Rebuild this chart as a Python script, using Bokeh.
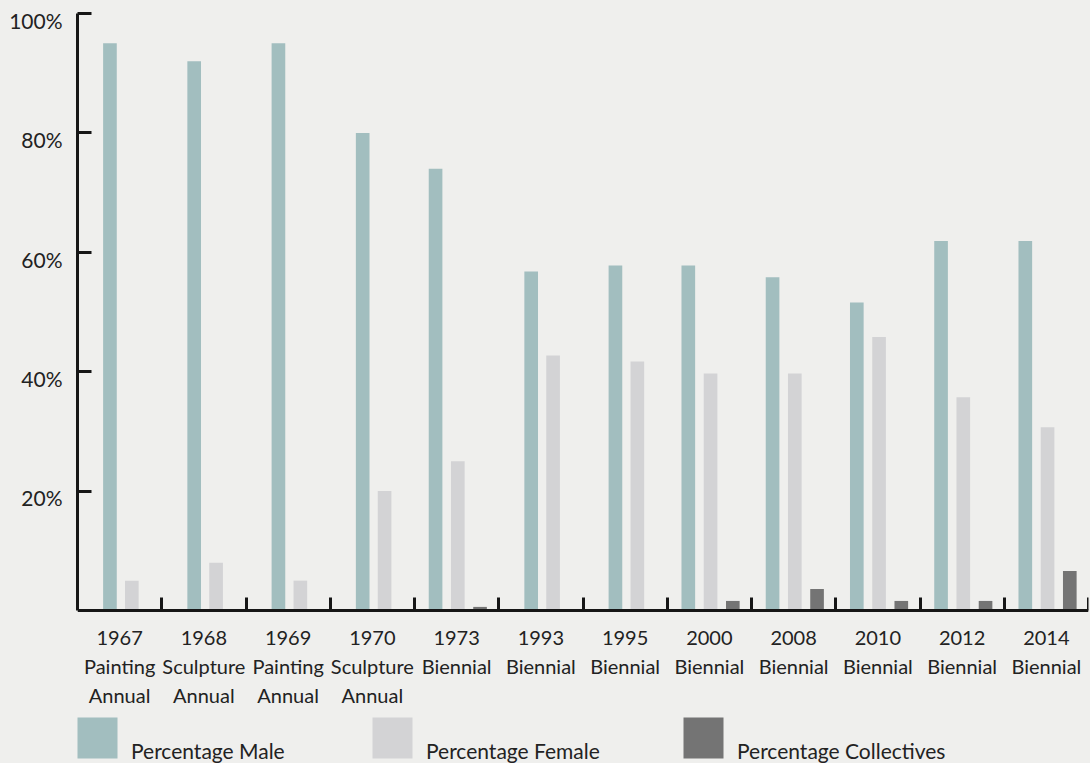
from bokeh.plotting import figure
from bokeh.models import Range1d, LinearAxis, FixedTicker, Legend, LegendItem
from bokeh.embed import file_html
from bokeh.resources import INLINE

# ---- data ----
years = ["1967", "1968", "1969", "1970", "1973", "1993", "1995", "2000",
         "2008", "2010", "2012", "2014"]
kinds = ["Painting\nAnnual", "Sculpture\nAnnual", "Painting\nAnnual", "Sculpture\nAnnual",
         "Biennial", "Biennial", "Biennial", "Biennial",
         "Biennial", "Biennial", "Biennial", "Biennial"]
male = [95, 92, 95, 80, 74, 56.8, 57.8, 57.8, 55.8, 51.6, 61.9, 61.9]
female = [5, 8, 5, 20, 25, 42.7, 41.7, 39.7, 39.7, 45.8, 35.7, 30.7]
collectives = [0, 0, 0, 0, 0.6, 0, 0, 1.6, 3.6, 1.6, 1.6, 6.6]
series_names = ["Percentage Male", "Percentage Female", "Percentage Collectives"]
y_ticks = [20, 40, 60, 80, 100]

# ---- style ----
FONT = "Lato"
BG = "#efefed"
C_MALE = "#a2bebf"
C_FEMALE = "#d3d3d5"
C_COLL = "#747474"
INK = "#161616"
TXT = "#222222"
BW = 0.162
Y_LOW = -25.63   # room under the baseline for the labels and the legend

n = len(years)
centers = [i + 0.5 for i in range(n)]
mx, fx, cx, ctop = [], [], [], []
for i, c in enumerate(collectives):
    if c > 0:
        mx.append(centers[i] - 0.25)
        fx.append(centers[i] + 0.014)
        cx.append(centers[i] + 0.278)
        ctop.append(c)
    else:
        mx.append(centers[i] - 0.115)
        fx.append(centers[i] + 0.145)

p = figure(width=1090, height=763, x_range=Range1d(0, n), y_range=Range1d(Y_LOW, 100),
           output_backend="svg", toolbar_location=None,
           min_border_left=77, min_border_top=13, min_border_right=2, min_border_bottom=0,
           background_fill_color=BG, border_fill_color=BG, outline_line_color=None)
p.grid.visible = False

rm = p.vbar(x=mx, top=male, bottom=0, width=BW, fill_color=C_MALE, line_color=None)
rf = p.vbar(x=fx, top=female, bottom=0, width=BW, fill_color=C_FEMALE, line_color=None)
rc = p.vbar(x=cx, top=ctop, bottom=0, width=BW, fill_color=C_COLL, line_color=None)

# ---- y axis (line + inward ticks) ----
ya = p.yaxis[0]
ya.bounds = (0, 100)
ya.ticker = FixedTicker(ticks=y_ticks)
ya.axis_line_width = 3
ya.axis_line_color = INK
ya.major_tick_line_width = 3
ya.major_tick_line_color = INK
ya.major_tick_in = 14
ya.major_tick_out = 0
ya.minor_tick_line_color = None
ya.major_label_overrides = {t: "" for t in y_ticks}
ya.major_label_standoff = 0

# labels axis, shifted slightly down like the reference
p.extra_y_ranges = {"lbl": Range1d(Y_LOW + 1.15, 101.15)}
yl = LinearAxis(y_range_name="lbl", ticker=FixedTicker(ticks=y_ticks),
                axis_line_color=None, major_tick_line_color=None, minor_tick_line_color=None,
                major_tick_in=0, major_tick_out=0,
                major_label_overrides={t: f"{t}%" for t in y_ticks},
                major_label_text_font=FONT, major_label_text_font_size="21px",
                major_label_text_color=TXT, major_label_standoff=15)
p.add_layout(yl, "left")

# ---- x axis, sitting on the 0 line ----
xa = p.xaxis[0]
xa.fixed_location = 0
xa.ticker = FixedTicker(ticks=centers, minor_ticks=list(range(1, n + 1)))
xa.axis_line_width = 3
xa.axis_line_color = INK
xa.major_tick_line_color = None
xa.minor_tick_line_color = INK
xa.minor_tick_line_width = 3
xa.minor_tick_in = 13
xa.minor_tick_out = 0
xa.major_label_overrides = {c: f"{y}\n{k}" for c, y, k in zip(centers, years, kinds)}
xa.major_label_text_font = FONT
xa.major_label_text_font_size = "20px"
xa.major_label_text_color = TXT
xa.major_label_text_line_height = 1.2
xa.major_label_standoff = 9

# ---- legends (one per series, placed like the reference) ----
# a leading line break drops the label a little below the swatch's centre, as in the reference
for r, nm, xloc in [(rm, series_names[0], -5), (rf, series_names[1], 290), (rc, series_names[2], 601)]:
    lg = Legend(items=[LegendItem(label="\n" + nm, renderers=[r])],
                location=(xloc, 0), orientation="horizontal",
                glyph_width=50, glyph_height=51, label_standoff=9,
                padding=0, margin=0, spacing=0,
                border_line_color=None, background_fill_alpha=0,
                label_text_font=FONT, label_text_font_size="21px",
                label_text_line_height=1.0,
                label_text_color=TXT)
    p.add_layout(lg, "center")

html = file_html(p, INLINE)
html = html.replace("<body>", '<body style="background-color:#efefed;">')
open("out.html", "w").write(html)
